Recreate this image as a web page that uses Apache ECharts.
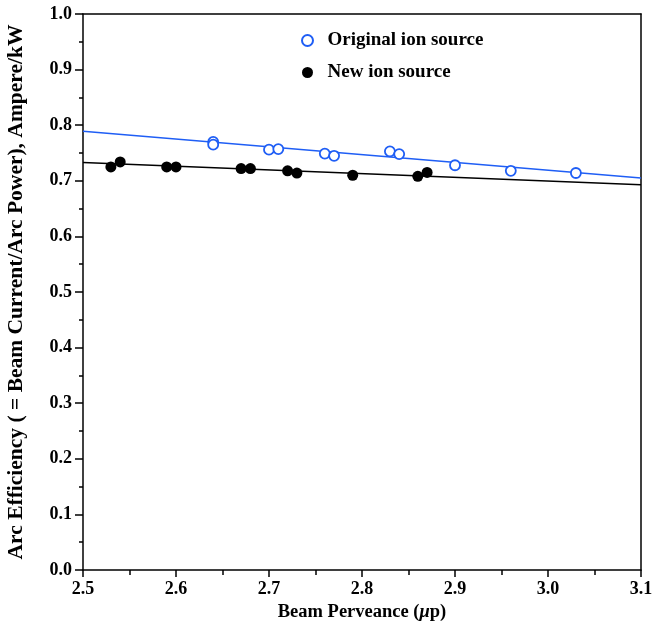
<!DOCTYPE html>
<html>
<head>
<meta charset="utf-8">
<script src="https://cdn.jsdelivr.net/npm/echarts@6/dist/echarts.min.js"></script>
<style>html,body{margin:0;padding:0;background:#fff}#c{width:668px;height:626px}</style>
</head>
<body>
<div id="c"></div>
<script>
var origX = [2.64, 2.64, 2.70, 2.71, 2.76, 2.77, 2.83, 2.84, 2.90, 2.96, 3.03];
var origY = [0.770, 0.765, 0.756, 0.757, 0.749, 0.745, 0.753, 0.748, 0.728, 0.718, 0.714];
var newX = [2.53, 2.54, 2.59, 2.60, 2.67, 2.68, 2.72, 2.73, 2.79, 2.86, 2.87];
var newY = [0.725, 0.734, 0.725, 0.725, 0.722, 0.722, 0.718, 0.714, 0.710, 0.708, 0.715];
var origFitX = [2.5, 3.1];
var origFitY = [0.789, 0.705];
var newFitX = [2.5, 3.1];
var newFitY = [0.733, 0.693];
var xTicks = ['2.5', '2.6', '2.7', '2.8', '2.9', '3.0', '3.1'];
var yTicks = ['0.0', '0.1', '0.2', '0.3', '0.4', '0.5', '0.6', '0.7', '0.8', '0.9', '1.0'];

function pairs(xs, ys) { return xs.map(function (x, i) { return [x, ys[i]]; }); }

var FONT = '"Liberation Serif", "Times New Roman", serif';
var BLUE = '#1f5ef5';
var chart = echarts.init(document.getElementById('c'), null, { renderer: 'canvas' });

var baseX = { type: 'value', min: 2.5, max: 3.1, interval: 0.1, gridIndex: 0 };
var baseY = { type: 'value', min: 0, max: 1, interval: 0.1, gridIndex: 0 };
var lineStyle = { color: '#000', width: 1.5 };

chart.setOption({
  animation: false,
  grid: { left: 83, right: 27, top: 14, bottom: 56, containLabel: false, outerBoundsMode: 'none' },
  legend: {
    orient: 'vertical', left: 296, top: 26, itemGap: 13,
    itemWidth: 30, itemHeight: 11,
    data: ['Original ion source', 'New ion source'],
    textStyle: { fontFamily: FONT, fontWeight: 'bold', fontSize: 19, color: '#000' }
  },
  xAxis: [
    Object.assign({}, baseX, {
      position: 'bottom',
      name: '{n|Beam Perveance (}{i|μ}{n|p)}', nameLocation: 'middle', nameGap: 31,
      nameTextStyle: { rich: {
        n: { fontFamily: FONT, fontWeight: 'bold', fontSize: 18.5, color: '#000' },
        i: { fontFamily: FONT, fontWeight: 'bold', fontStyle: 'italic', fontSize: 18.5, color: '#000' }
      } },
      axisLine: { onZero: false, lineStyle: lineStyle },
      axisTick: { inside: false, length: 7, lineStyle: lineStyle },
      minorTick: { show: true, splitNumber: 2, length: 5, lineStyle: lineStyle },
      axisLabel: { margin: 10, fontFamily: FONT, fontWeight: 'bold', fontSize: 18, color: '#000',
        formatter: function (v) { return xTicks[Math.round((v - 2.5) * 10)]; } },
      splitLine: { show: false }
    }),
    Object.assign({}, baseX, {
      position: 'top',
      axisLine: { onZero: false, lineStyle: lineStyle },
      axisTick: { show: false }, axisLabel: { show: false }, splitLine: { show: false }
    })
  ],
  yAxis: [
    Object.assign({}, baseY, {
      position: 'left',
      name: 'Arc Efficiency ( = Beam Current/Arc Power), Ampere/kW', nameLocation: 'middle', nameGap: 56,
      nameTextStyle: { fontFamily: FONT, fontWeight: 'bold', fontSize: 21.5, color: '#000' },
      axisLine: { show: true, onZero: false, lineStyle: lineStyle },
      axisTick: { show: true, inside: false, length: 8, lineStyle: lineStyle },
      minorTick: { show: true, splitNumber: 2, length: 4, lineStyle: lineStyle },
      axisLabel: { margin: 11, fontFamily: FONT, fontWeight: 'bold', fontSize: 18, color: '#000',
        formatter: function (v) { return yTicks[Math.round(v * 10)]; } },
      splitLine: { show: false }
    }),
    Object.assign({}, baseY, {
      position: 'right',
      axisLine: { show: true, onZero: false, lineStyle: lineStyle },
      axisTick: { show: false }, axisLabel: { show: false }, splitLine: { show: false }
    })
  ],
  series: [
    { name: 'Original fit', type: 'line', xAxisIndex: 0, yAxisIndex: 0, data: pairs(origFitX, origFitY),
      showSymbol: false, lineStyle: { color: BLUE, width: 1.6 }, z: 2, silent: true },
    { name: 'New fit', type: 'line', xAxisIndex: 0, yAxisIndex: 0, data: pairs(newFitX, newFitY),
      showSymbol: false, lineStyle: { color: '#000', width: 1.6 }, z: 2, silent: true },
    { name: 'Original ion source', type: 'scatter', xAxisIndex: 0, yAxisIndex: 0, data: pairs(origX, origY),
      symbol: 'circle', symbolSize: 10,
      itemStyle: { color: '#fff', borderColor: BLUE, borderWidth: 1.8, opacity: 1 }, z: 3 },
    { name: 'New ion source', type: 'scatter', xAxisIndex: 0, yAxisIndex: 0, data: pairs(newX, newY),
      symbol: 'circle', symbolSize: 11,
      itemStyle: { color: '#000', opacity: 1 }, z: 3 }
  ]
});
</script>
</body>
</html>
